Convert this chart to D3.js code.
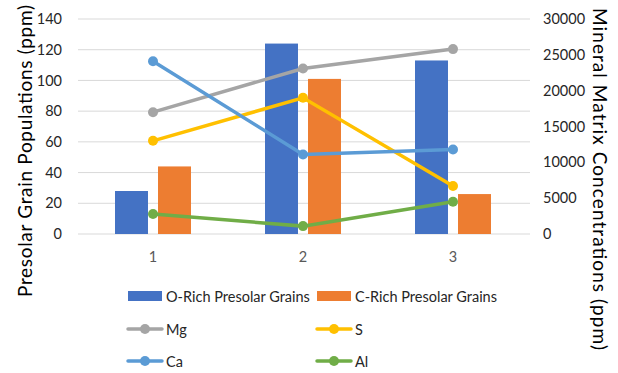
<!DOCTYPE html>
<html>
<head>
<meta charset="utf-8">
<script src="https://cdn.jsdelivr.net/npm/d3@7"></script>
<style>
  body { margin: 0; background: #fff; }
  text { font-family: Lato, 'Liberation Sans', sans-serif; }
</style>
</head>
<body>
<div id="chart"></div>
<script>
// data
const categories = ['1', '2', '3']
const barSeries = ['O-Rich Presolar Grains', 'C-Rich Presolar Grains']
const oRich = [28, 124, 113]
const cRich = [44, 101, 26]
const lineSeries = ['Mg', 'S', 'Ca', 'Al']
const mg = [17000, 23100, 25800]
const sulfur = [13000, 19000, 6700]
const ca = [24100, 11100, 11800]
const al = [2800, 1100, 4500]
const leftTicks = [0, 20, 40, 60, 80, 100, 120, 140]
const rightTicks = [0, 5000, 10000, 15000, 20000, 25000, 30000]

let width = 618
let height = 373
let margin = { top: 19, left: 78, right: 90, bottom: 139 }

let svg = d3
  .select('#chart')
  .append('svg')
  .attr('width', width)
  .attr('height', height)

let x0 = d3
  .scaleBand()
  .domain(categories)
  .range([margin.left, width - margin.right])
  .padding(0)

let x1 = d3
  .scaleBand()
  .domain(barSeries)
  .range([37, 113])
  .paddingInner(0.233)

let yLeft = d3
  .scaleLinear()
  .domain([0, 140])
  .range([height - margin.bottom, margin.top])

let yRight = d3
  .scaleLinear()
  .domain([0, 30000])
  .range([height - margin.bottom, margin.top])

let barColor = d3.scaleOrdinal().domain(barSeries).range(['#4472c4', '#ed7d31'])
let lineColor = d3
  .scaleOrdinal()
  .domain(lineSeries)
  .range(['#a5a5a5', '#ffc000', '#5b9bd5', '#70ad47'])

// gridlines
svg
  .append('g')
  .selectAll('line')
  .data(leftTicks)
  .enter()
  .append('line')
  .attr('x1', margin.left)
  .attr('x2', width - margin.right + 2)
  .attr('y1', d => yLeft(d))
  .attr('y2', d => yLeft(d))
  .attr('stroke', '#d9d9d9')
  .attr('stroke-width', 1)

// left axis
let leftAxis = svg
  .append('g')
  .attr('transform', `translate(${margin.left - 8},0)`)
  .call(d3.axisLeft(yLeft).tickValues(leftTicks).tickSize(0).tickPadding(8))
leftAxis.select('.domain').remove()
leftAxis
  .selectAll('text')
  .attr('font-size', 14.5)
  .attr('fill', '#262626')
  .style('font-family', 'Lato, sans-serif')

// right axis
let rightAxis = svg
  .append('g')
  .attr('transform', `translate(${width - margin.right + 7},0)`)
  .call(
    d3
      .axisRight(yRight)
      .tickValues(rightTicks)
      .tickFormat(d3.format('d'))
      .tickSize(0)
      .tickPadding(8)
  )
rightAxis.select('.domain').remove()
rightAxis
  .selectAll('text')
  .attr('font-size', 14.5)
  .attr('fill', '#262626')
  .style('font-family', 'Lato, sans-serif')

// bottom axis
let bottomAxis = svg
  .append('g')
  .attr('transform', `translate(0,${height - margin.bottom})`)
  .call(d3.axisBottom(x0).tickSize(0).tickPadding(18))
bottomAxis.select('.domain').remove()
bottomAxis
  .selectAll('text')
  .attr('font-size', 14.5)
  .attr('fill', '#595959')
  .style('font-family', 'Lato, sans-serif')

// bars
let barData = []
categories.forEach((c, i) => {
  barData.push({ cat: c, key: barSeries[0], value: oRich[i] })
  barData.push({ cat: c, key: barSeries[1], value: cRich[i] })
})

svg
  .selectAll('.bar')
  .data(barData)
  .enter()
  .append('rect')
  .attr('class', 'bar')
  .attr('x', d => x0(d.cat) + x1(d.key))
  .attr('width', x1.bandwidth())
  .attr('y', d => yLeft(d.value))
  .attr('height', d => yLeft(0) - yLeft(d.value))
  .attr('fill', d => barColor(d.key))

// lines
let lineData = [
  { key: 'Mg', values: mg },
  { key: 'S', values: sulfur },
  { key: 'Ca', values: ca },
  { key: 'Al', values: al }
]

let line = d3
  .line()
  .x((d, i) => x0(categories[i]) + x0.bandwidth() / 2)
  .y(d => yRight(d))

lineData.forEach(s => {
  let g = svg.append('g').attr('class', 'series')
  g.append('path')
    .attr('d', line(s.values))
    .attr('fill', 'none')
    .attr('stroke', lineColor(s.key))
    .attr('stroke-width', 3.5)
    .attr('stroke-linecap', 'round')
  g.selectAll('circle')
    .data(s.values)
    .enter()
    .append('circle')
    .attr('cx', (d, i) => x0(categories[i]) + x0.bandwidth() / 2)
    .attr('cy', d => yRight(d))
    .attr('r', 5)
    .attr('fill', lineColor(s.key))
})

// axis titles
svg
  .append('text')
  .text('Presolar Grain Populations (ppm)')
  .attr('transform', 'translate(24,151) rotate(-90)')
  .attr('text-anchor', 'middle')
  .attr('dominant-baseline', 'central')
  .attr('font-size', 19)
  .attr('textLength', 292)
  .attr('fill', '#000')

svg
  .append('text')
  .text('Mineral Matrix Concentrations (ppm)')
  .attr('transform', 'translate(600,179) rotate(90)')
  .attr('text-anchor', 'middle')
  .attr('dominant-baseline', 'central')
  .attr('font-size', 19)
  .attr('textLength', 342)
  .attr('fill', '#000')

// legend
let legendItems = [
  { key: barSeries[0], type: 'bar', x: 128, y: 296 },
  { key: barSeries[1], type: 'bar', x: 317, y: 296 },
  { key: 'Mg', type: 'line', x: 128, y: 329 },
  { key: 'S', type: 'line', x: 317, y: 329 },
  { key: 'Ca', type: 'line', x: 128, y: 361 },
  { key: 'Al', type: 'line', x: 317, y: 361 }
]

let legend = svg
  .selectAll('.legend-entry')
  .data(legendItems)
  .enter()
  .append('g')
  .attr('class', 'legend-entry')
  .attr('transform', d => `translate(${d.x},${d.y})`)
  .each(function(d) {
    let g = d3.select(this)
    if (d.type === 'bar') {
      g.append('rect')
        .attr('x', 0)
        .attr('y', -5)
        .attr('width', 34)
        .attr('height', 10)
        .attr('fill', barColor(d.key))
    } else {
      g.append('line')
        .attr('x1', 0)
        .attr('x2', 34)
        .attr('stroke', lineColor(d.key))
        .attr('stroke-width', 3.5)
        .attr('stroke-linecap', 'round')
      g.append('circle')
        .attr('cx', 17)
        .attr('r', 5)
        .attr('fill', lineColor(d.key))
    }
    g.append('text')
      .text(d.key)
      .attr('x', 38)
      .attr('dominant-baseline', 'central')
      .attr('font-size', 14.5)
      .attr('fill', '#262626')
  })
</script>
</body>
</html>
